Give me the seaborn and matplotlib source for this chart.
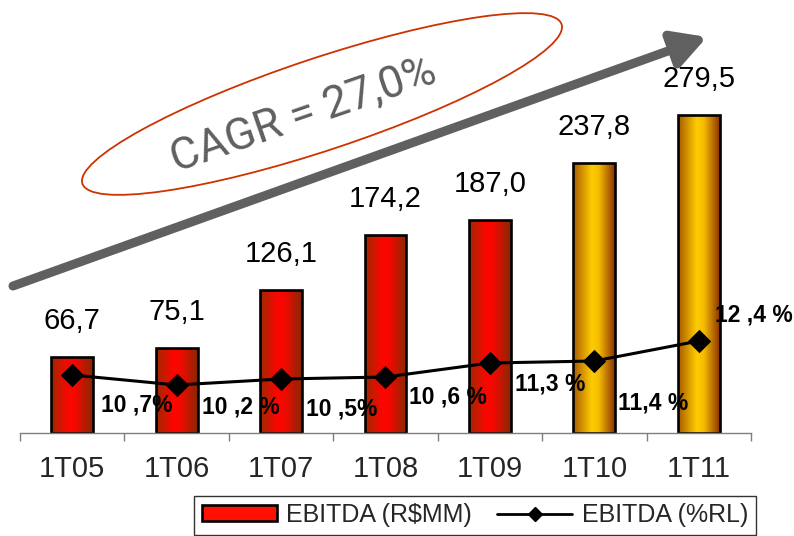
import numpy as np
import matplotlib
matplotlib.use("Agg")
import matplotlib.pyplot as plt
import seaborn as sns
from matplotlib.patches import Ellipse, Rectangle
from matplotlib.lines import Line2D
from matplotlib.colors import LinearSegmentedColormap

# EBITDA by first quarter of each year
quarters = ["1T05", "1T06", "1T07", "1T08", "1T09", "1T10", "1T11"]
ebitda = [66.7, 75.1, 126.1, 174.2, 187.0, 237.8, 279.5]
ebitda_labels = ["66,7", "75,1", "126,1", "174,2", "187,0", "237,8", "279,5"]
margin = [10.7, 10.2, 10.5, 10.6, 11.3, 11.4, 12.4]
margin_labels = ["10 ,7%", "10 ,2 %", "10 ,5%", "10 ,6 %", "11,3 %", "11,4 %", "12 ,4 %"]
bar_style = ["red", "red", "red", "red", "red", "gold", "gold"]
cagr_text = "CAGR = 27,0%"
legend_labels = ["EBITDA (R$MM)", "EBITDA (%RL)"]

# pixel offsets of the margin labels from their markers
margin_offsets = [(65, -30), (64, -22), (61, -30), (62, -20), (60, -21), (59, -42), (55, 26)]

sns.set_theme(style="white")
plt.rcParams["font.family"] = ["Liberation Sans", "DejaVu Sans"]

W, H = 794, 536
fig = plt.figure(figsize=(W / 100, H / 100), dpi=100)
ax = fig.add_axes([20 / W, 103 / H, 731 / W, 398 / H])

sns.barplot(x=quarters, y=ebitda, width=0.4, color="red", ax=ax,
            edgecolor="black", linewidth=1.9, saturation=1)

cmaps = {
    "red": LinearSegmentedColormap.from_list(
        "redbar", [(0, "#9c2a00"), (0.42, "#ff0500"), (0.6, "#f00a00"), (1, "#862800")]),
    "gold": LinearSegmentedColormap.from_list(
        "goldbar", [(0, "#a85a00"), (0.45, "#ffcc00"), (0.62, "#f5bb00"), (1, "#8a3400")]),
}
grad = np.linspace(0, 1, 256).reshape(1, -1)
for patch, style in zip(ax.patches, bar_style):
    x0, y0 = patch.get_x(), patch.get_y()
    w, h = patch.get_width(), patch.get_height()
    im = ax.imshow(grad, cmap=cmaps[style], extent=(x0, x0 + w, y0, y0 + h),
                   aspect="auto", origin="lower", interpolation="bicubic",
                   zorder=patch.get_zorder() - 0.1)
    im.set_clip_path(patch)
    patch.set_facecolor("none")
    patch.set_zorder(patch.get_zorder() + 0.1)

for i, (v, lab) in enumerate(zip(ebitda, ebitda_labels)):
    ax.annotate(lab, (i, v), xytext=(0, 28), textcoords="offset pixels",
                ha="center", va="baseline", fontsize=21, color="black")

ax.set_xlim(-0.5, len(quarters) - 0.5)
ax.set_ylim(0, 350)
ax.set_yticks([])
ax.set_xticks(range(len(quarters)))
ax.set_xticklabels(quarters, fontsize=21)
ax.set_xticks(np.arange(-0.5, len(quarters), 1.0), minor=True)
ax.tick_params(axis="x", which="major", length=0, pad=16)
ax.tick_params(axis="x", which="minor", length=6, width=1, color="#7f7f7f",
               direction="out", bottom=True)
for side in ["left", "right", "top"]:
    ax.spines[side].set_visible(False)
ax.spines["bottom"].set_color("#7f7f7f")
ax.spines["bottom"].set_linewidth(1)
ax.set_xlabel("")
ax.set_ylabel("")

# EBITDA margin line on the secondary axis
ax2 = ax.twinx()
sns.lineplot(x=np.arange(len(quarters)), y=margin, ax=ax2, color="black",
             linewidth=2.2, marker="D", markersize=11, markeredgecolor="black",
             markerfacecolor="black")
ax2.set_ylim(7.8, 27.7)
ax2.set_xlim(-0.5, len(quarters) - 0.5)
ax2.set_yticks([])
ax2.set_ylabel("")
for side in ["left", "right", "top", "bottom"]:
    ax2.spines[side].set_visible(False)
for i, (v, lab, off) in enumerate(zip(margin, margin_labels, margin_offsets)):
    ax2.annotate(lab, (i, v), xytext=off, textcoords="offset pixels",
                 ha="center", va="center", fontsize=16.5, fontweight="bold",
                 color="black")

# growth arrow and CAGR callout
over = fig.add_axes([0, 0, 1, 1])
over.set_xlim(0, W)
over.set_ylim(H, 0)
over.axis("off")
over.patch.set_alpha(0)
over.annotate("", xy=(707, 37), xytext=(13, 286),
              arrowprops=dict(arrowstyle="-|>,head_length=1.0,head_width=0.55",
                              mutation_scale=20, lw=6.5, color="#606060",
                              shrinkA=0, shrinkB=0))
over.add_patch(Ellipse((322, 104), 505, 92, angle=-18.4, fill=False,
                       edgecolor="#cc3300", linewidth=1.3))
over.text(304, 116, cagr_text, rotation=19, rotation_mode="anchor",
          ha="center", va="center", fontsize=32, color="#5f5f5f",
          fontweight="normal", family=["Roboto", "DejaVu Sans"])

# legend
handles = [
    Rectangle((0, 0), 1, 1, facecolor="#ff1000", edgecolor="black", linewidth=1.9),
    Line2D([0], [0], color="black", linewidth=2, marker="D", markersize=7),
]
leg = fig.legend(handles, legend_labels, loc="center",
                 bbox_to_anchor=(475 / W, 1 - 515 / H), ncol=2, frameon=True,
                 fancybox=False, edgecolor="black", fontsize=18,
                 handlelength=3.0, handleheight=0.6, handletextpad=0.38,
                 columnspacing=1.0, borderpad=0.3)
leg.get_frame().set_linewidth(1.0)

fig.savefig("out.png", dpi=100)
